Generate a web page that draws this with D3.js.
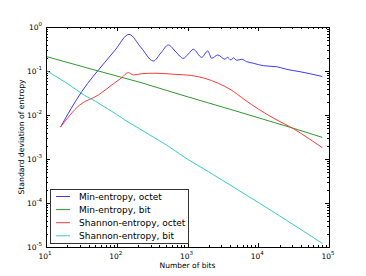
<!DOCTYPE html>
<html>
<head>
<meta charset="utf-8">
<title>Entropy std</title>
<style>
    body { margin: 0; background: #fff; }
    svg { font-family: "DejaVu Sans", sans-serif; }
    .axis path { display: none; }
    .axis line { stroke: #000; shape-rendering: crispEdges; }
    .series { fill: none; stroke-width: 1; }
</style>
</head>
<body>
<svg width="366" height="276"></svg>
<script src="https://d3js.org/d3.v7.min.js"></script>
<script>
// values (number of bits -> std deviation)
var minOctetN  = [16, 32, 68, 95, 149, 220, 329, 420, 536, 687, 873, 1026, 1208, 1589, 1932, 2199, 2673, 3388, 3650, 4120, 4440, 4960, 5830, 6870, 8510, 11780, 18230, 25250, 38900, 53800, 80400];
var minOctetSd = [0.0053, 0.034, 0.158, 0.30, 0.68, 0.342, 0.169, 0.257, 0.39, 0.27, 0.194, 0.243, 0.311, 0.205, 0.285, 0.194, 0.231, 0.185, 0.205, 0.178, 0.20, 0.175, 0.185, 0.163, 0.150, 0.132, 0.125, 0.109, 0.0964, 0.0868, 0.075];

var minBitN  = [10, 46, 213, 923, 3990, 31300, 80400];
var minBitSd = [0.214, 0.108, 0.0554, 0.027, 0.0135, 0.0050, 0.0031];

var shanOctetN  = [16, 30, 55, 85, 117, 146, 171, 225, 347, 666, 1145, 1766, 2724, 3990, 6500, 10000, 17260, 31300, 50500, 80400];
var shanOctetSd = [0.0053, 0.0169, 0.0285, 0.048, 0.070, 0.092, 0.081, 0.087, 0.089, 0.084, 0.079, 0.068, 0.0525, 0.0386, 0.0219, 0.0137, 0.0081, 0.0049, 0.0030, 0.00181];

var shanBitN  = [10, 20, 35, 50, 100, 130, 200, 500, 1000, 2000, 5000, 10000, 20000, 40000, 80400];
var shanBitSd = [0.104, 0.052, 0.028, 0.0205, 0.0103, 0.0077, 0.0051, 0.0021, 0.00099, 0.00051, 0.000205, 0.000103, 0.000051, 0.000025, 0.0000121];

var xMajor = [1, 2, 3, 4, 5];     // exponents of 10
var yMajor = [0, -1, -2, -3, -4, -5];

var names  = ["Min-entropy, octet", "Min-entropy, bit", "Shannon-entropy, octet", "Shannon-entropy, bit"];
var colors = ["#3b3bff", "#2e992e", "#ff3b3b", "#33cccc"];

var svg = d3.select("svg");
var L = 46, R = 329, T = 27, B = 247;

var x = d3.scaleLog().domain([10, 1e5]).range([L, R]);
var y = d3.scaleLog().domain([1e-5, 1]).range([B, T]);

var majX = xMajor.map(function(e) { return Math.pow(10, e); });
var majY = yMajor.map(function(e) { return Math.pow(10, e); });
var minX = [], minY = [];
for (var e = 1; e < 5; e++) for (var m = 2; m < 10; m++) minX.push(m * Math.pow(10, e));
for (var e = -5; e < 0; e++) for (var m = 2; m < 10; m++) minY.push(m * Math.pow(10, e));

function ticks(axisFn, scale, vals, len, tr) {
    svg.append("g").attr("class", "axis").attr("transform", tr)
        .call(axisFn(scale).tickValues(vals).tickSize(len).tickFormat(""));
}
// inward ticks on all four sides
ticks(d3.axisBottom, x, majX, -4, "translate(0," + B + ")");
ticks(d3.axisBottom, x, minX, -2, "translate(0," + B + ")");
ticks(d3.axisTop, x, majX, -4, "translate(0," + T + ")");
ticks(d3.axisTop, x, minX, -2, "translate(0," + T + ")");
ticks(d3.axisLeft, y, majY, -4, "translate(" + L + ",0)");
ticks(d3.axisLeft, y, minY, -2, "translate(" + L + ",0)");
ticks(d3.axisRight, y, majY, -4, "translate(" + R + ",0)");
ticks(d3.axisRight, y, minY, -2, "translate(" + R + ",0)");

// lines
var series = [[minOctetN, minOctetSd], [minBitN, minBitSd], [shanOctetN, shanOctetSd], [shanBitN, shanBitSd]];
var curves = [d3.curveMonotoneX, d3.curveLinear, d3.curveMonotoneX, d3.curveLinear];
series.forEach(function(s, i) {
    var pts = s[0].map(function(n, j) { return [n, s[1][j]]; });
    var line = d3.line()
        .x(function(d) { return x(d[0]); })
        .y(function(d) { return y(d[1]); })
        .curve(curves[i]);
    svg.append("path").attr("class", "series")
        .attr("stroke", colors[i])
        .attr("d", line(pts));
});

// frame
svg.append("rect")
    .attr("x", L + 0.5).attr("y", T + 0.5)
    .attr("width", R - L).attr("height", B - T)
    .attr("fill", "none").attr("stroke", "#000");

// tick labels 10^n
var xl = svg.append("g").selectAll("text").data(xMajor).enter().append("text")
    .attr("x", function(d) { return x(Math.pow(10, d)) - 1; })
    .attr("y", B + 12)
    .attr("text-anchor", "middle")
    .style("font-size", "7.5px");
xl.append("tspan").text("10");
xl.append("tspan").attr("dy", -4).style("font-size", "5.5px").text(function(d) { return d; });

var yl = svg.append("g").selectAll("text").data(yMajor).enter().append("text")
    .attr("x", L - 4)
    .attr("y", function(d) { return y(Math.pow(10, d)) + 3; })
    .attr("text-anchor", "end")
    .style("font-size", "7.5px");
yl.append("tspan").text("10");
yl.append("tspan").attr("dy", -4).style("font-size", "5.5px").text(function(d) { return d; });

// axis titles
svg.append("text")
    .attr("x", (L + R) / 2).attr("y", 268)
    .attr("text-anchor", "middle")
    .style("font-size", "7.5px")
    .text("Number of bits");
svg.append("text")
    .attr("transform", "translate(24," + ((T + B) / 2) + ") rotate(-90)")
    .attr("text-anchor", "middle")
    .style("font-size", "7.7px")
    .text("Standard deviation of entropy");

// legend
var lg = svg.append("g");
lg.append("rect")
    .attr("x", 50.5).attr("y", 189.5)
    .attr("width", 138).attr("height", 54)
    .attr("fill", "#fff").attr("stroke", "#333");
names.forEach(function(nm, i) {
    var yy = 196.5 + i * 13.1;
    lg.append("line")
        .attr("x1", 56).attr("x2", 70)
        .attr("y1", yy).attr("y2", yy)
        .attr("stroke", colors[i]);
    lg.append("text")
        .attr("x", 79).attr("y", yy + 3.2)
        .style("font-size", "9px")
        .text(nm);
});
</script>
</body>
</html>
